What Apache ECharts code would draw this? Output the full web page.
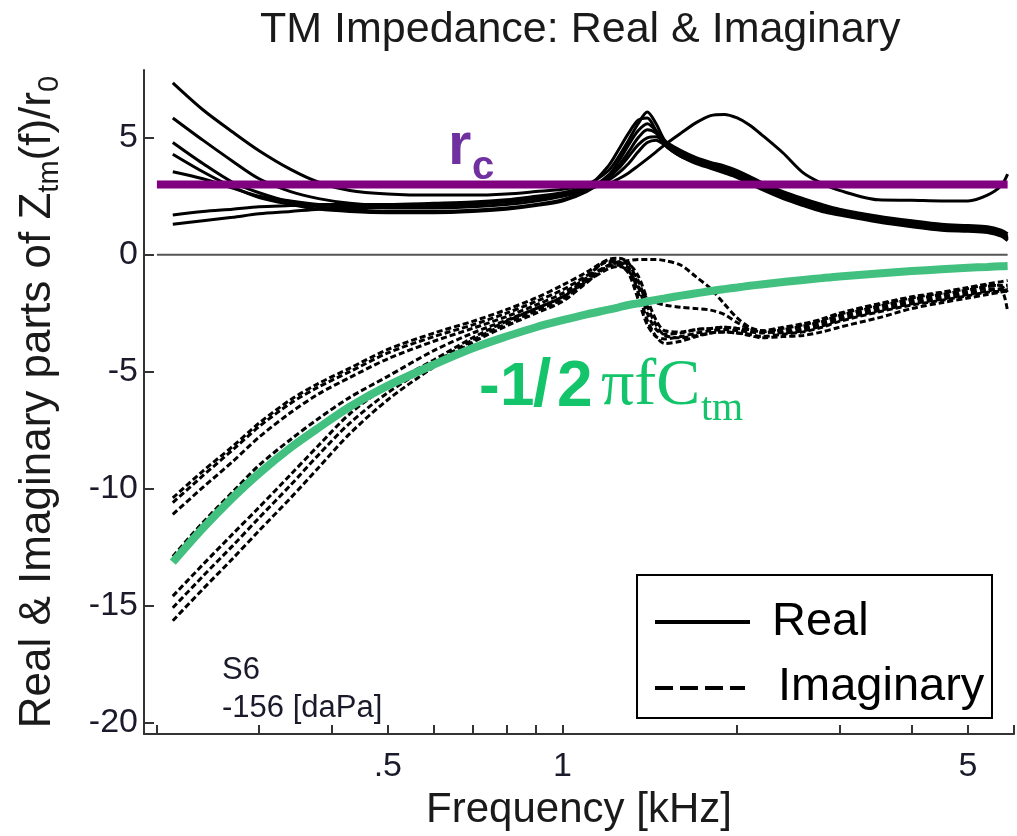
<!DOCTYPE html>
<html>
<head>
<meta charset="utf-8">
<title>TM Impedance: Real & Imaginary</title>
<script src="https://cdn.jsdelivr.net/npm/echarts@6/dist/echarts.min.js"></script>
<style>
  html, body { margin: 0; padding: 0; background: #ffffff; }
  #chart { width: 1017px; height: 836px; }
</style>
</head>
<body>
<div id="chart"></div>
<script>
// frequency samples [kHz]
const freq = [0.213, 0.24, 0.27, 0.3, 0.34, 0.38, 0.43, 0.5, 0.6, 0.7, 0.8, 0.9, 1.0,
  1.1, 1.2, 1.25, 1.3, 1.35, 1.4, 1.45, 1.5, 1.6, 1.7, 1.8, 1.9, 2.0, 2.1, 2.2,
  2.4, 2.6, 2.8, 3.0, 3.5, 4.0, 4.5, 5.0, 5.4, 5.7, 5.85];

// real parts (solid)
const real1 = [7.35, 6.2, 5.25, 4.45, 3.65, 3.1, 2.75, 2.6, 2.55, 2.55, 2.6, 2.7, 2.8,
  3.0, 3.6, 4.2, 4.9, 5.6, 6.1, 5.6, 4.9, 4.3, 4.0, 3.8, 3.65, 3.45, 3.2, 2.95,
  2.55, 2.25, 2.0, 1.85, 1.55, 1.35, 1.2, 1.15, 1.1, 0.9, 0.75];
const real2 = [5.85, 4.9, 4.0, 3.25, 2.7, 2.4, 2.2, 2.1, 2.1, 2.15, 2.25, 2.4, 2.55,
  2.85, 3.8, 4.5, 5.2, 5.75, 5.85, 5.3, 4.7, 4.2, 3.95, 3.75, 3.6, 3.4, 3.15, 2.9,
  2.5, 2.2, 1.95, 1.75, 1.45, 1.25, 1.1, 1.05, 1.0, 0.85, 0.65];
const real3 = [4.8, 3.9, 3.1, 2.65, 2.25, 2.05, 1.95, 1.85, 1.85, 1.9, 2.0, 2.15, 2.35,
  2.75, 3.4, 4.0, 4.7, 5.3, 5.6, 5.3, 4.8, 4.3, 4.05, 3.85, 3.7, 3.5, 3.25, 3.0,
  2.6, 2.3, 2.05, 1.9, 1.6, 1.4, 1.25, 1.2, 1.15, 0.95, 0.8];
const real4 = [4.3, 3.55, 2.9, 2.45, 2.15, 1.95, 1.85, 1.8, 1.8, 1.85, 1.95, 2.1, 2.3,
  2.7, 3.3, 3.8, 4.4, 5.0, 5.35, 5.2, 4.7, 4.2, 3.9, 3.7, 3.5, 3.3, 3.05, 2.8,
  2.4, 2.1, 1.85, 1.7, 1.4, 1.2, 1.05, 1.0, 0.95, 0.8, 0.6];
const real5 = [3.55, 3.25, 2.85, 2.5, 2.3, 2.15, 2.05, 2.0, 2.0, 2.05, 2.15, 2.3, 2.5,
  2.8, 3.3, 3.7, 4.2, 4.7, 5.0, 5.05, 4.85, 4.45, 4.15, 3.95, 3.8, 3.6, 3.35, 3.1,
  2.7, 2.4, 2.15, 1.95, 1.65, 1.45, 1.3, 1.25, 1.2, 1.05, 0.9];
const real6 = [1.7, 1.85, 1.95, 2.05, 2.1, 2.15, 2.15, 2.15, 2.2, 2.25, 2.35, 2.5, 2.65,
  2.9, 3.2, 3.5, 3.9, 4.4, 4.8, 4.9, 4.7, 4.35, 4.1, 3.9, 3.7, 3.5, 3.3, 3.05,
  2.65, 2.35, 2.1, 1.9, 1.55, 1.3, 1.15, 1.1, 1.05, 0.9, 0.7];
const real7 = [1.3, 1.45, 1.6, 1.75, 1.85, 1.95, 2.0, 2.05, 2.1, 2.2, 2.3, 2.45, 2.6,
  2.8, 3.05, 3.25, 3.5, 3.8, 4.1, 4.4, 4.7, 5.2, 5.65, 5.95, 6.0, 5.85, 5.55, 5.15,
  4.35, 3.5, 3.05, 2.75, 2.35, 2.33, 2.3, 2.3, 2.55, 2.95, 3.45];

// imaginary parts (dashed)
const imag1 = [-10.4, -9.25, -8.2, -7.2, -6.2, -5.5, -4.85, -4.05, -3.35, -2.85, -2.35, -1.85, -1.3,
  -0.75, -0.2, -0.15, -0.35, -1.3, -2.5, -3.2, -3.4, -3.35, -3.2, -3.15, -3.1, -3.15, -3.2, -3.25,
  -3.1, -2.95, -2.75, -2.5, -2.1, -1.8, -1.6, -1.4, -1.25, -1.15, -1.1];
const imag2 = [-10.6, -9.45, -8.35, -7.35, -6.35, -5.65, -5.0, -4.2, -3.5, -3.0, -2.5, -2.0, -1.5,
  -0.9, -0.3, -0.4, -0.8, -1.9, -3.0, -3.5, -3.6, -3.5, -3.35, -3.25, -3.2, -3.25, -3.3, -3.35,
  -3.2, -3.05, -2.85, -2.6, -2.2, -1.9, -1.7, -1.5, -1.35, -1.3, -1.3];
const imag3 = [-11.1, -9.95, -8.85, -7.8, -6.75, -5.95, -5.25, -4.45, -3.7, -3.15, -2.65, -2.15, -1.65,
  -1.0, -0.45, -0.35, -0.4, -0.9, -1.9, -2.8, -3.25, -3.3, -3.2, -3.15, -3.1, -3.15, -3.2, -3.3,
  -3.15, -3.0, -2.8, -2.55, -2.15, -1.85, -1.65, -1.45, -1.3, -1.35, -1.6];
const imag4 = [-12.9, -11.45, -10.15, -9.0, -7.9, -7.0, -6.1, -5.2, -4.1, -3.35, -2.8, -2.3, -1.8,
  -1.15, -0.6, -0.5, -0.7, -1.4, -1.85, -2.05, -2.15, -2.25, -2.3, -2.37, -2.55, -2.9, -3.15, -3.3,
  -3.3, -3.15, -2.95, -2.7, -2.3, -2.0, -1.8, -1.6, -1.45, -1.5, -2.45];
const imag5 = [-14.6, -13.25, -11.95, -10.8, -9.4, -8.15, -6.8, -5.6, -4.5, -3.55, -2.85, -2.3, -1.8,
  -1.0, -0.25, -0.3, -0.6, -1.6, -2.8, -3.5, -3.8, -3.7, -3.5, -3.35, -3.3, -3.35, -3.4, -3.5,
  -3.4, -3.3, -3.1, -2.85, -2.45, -2.15, -1.95, -1.75, -1.6, -1.55, -1.5];
const imag6 = [-15.1, -13.75, -12.45, -11.25, -9.85, -8.55, -7.2, -5.9, -4.65, -3.65, -2.95, -2.4, -1.9,
  -1.1, -0.45, -0.3, -0.25, -0.2, -0.2, -0.2, -0.25, -0.45, -0.95, -1.45, -2.1, -2.7, -3.1, -3.25,
  -3.35, -3.25, -3.05, -2.8, -2.4, -2.1, -1.9, -1.7, -1.55, -1.45, -1.4];
const imag7 = [-15.65, -14.3, -13.0, -11.8, -10.4, -9.1, -7.65, -6.2, -4.8, -3.75, -3.05, -2.5, -2.0,
  -1.2, -0.5, -0.45, -0.55, -1.1, -2.2, -3.0, -3.45, -3.55, -3.45, -3.35, -3.3, -3.35, -3.45, -3.55,
  -3.5, -3.45, -3.3, -3.1, -2.7, -2.3, -2.05, -1.85, -1.7, -1.6, -1.55];

// -1/2πfCtm (green)
const capCurve = [-13.15, -11.7, -10.4, -9.35, -8.25, -7.4, -6.5, -5.6, -4.7, -4.0, -3.5, -3.1, -2.8,
  -2.55, -2.35, -2.25, -2.15, -2.08, -2.0, -1.93, -1.87, -1.75, -1.65, -1.55, -1.47, -1.4, -1.33, -1.27,
  -1.17, -1.08, -1.0, -0.93, -0.8, -0.7, -0.62, -0.56, -0.52, -0.49, -0.48];

// rc line and zero line (ends of the drawn segment)
const rcFreq = [0.2, 5.85];
const rcValue = 3;
const zeroValue = 0;

// ticks
const xTickValues = [0.2, 0.3, 0.4, 0.5, 0.6, 0.7, 0.8, 0.9, 1, 2, 3, 4, 5, 6];
const xLabelValues = [0.5, 1, 5];
const xLabelTexts = ['.5', '1', '5'];
const yTickValues = [-20, -15, -10, -5, 0, 5];

const realSets = [real1, real2, real3, real4, real5, real6, real7];
const imagSets = [imag1, imag2, imag3, imag4, imag5, imag6, imag7];

const zip = (ys) => freq.map((f, i) => [f, ys[i]]);

const SANS = '"Liberation Sans", Arial, sans-serif';
const SERIF = '"Liberation Serif", "Times New Roman", serif';

const series = [];
realSets.forEach((ys) => {
  series.push({
    type: 'line', name: 'Real', data: zip(ys), symbol: 'none', smooth: 0.3,
    silent: true, z: 2,
    lineStyle: { color: '#000000', width: 3 }
  });
});
imagSets.forEach((ys) => {
  series.push({
    type: 'line', name: 'Imaginary', data: zip(ys), symbol: 'none', smooth: 0.3,
    silent: true, z: 2,
    lineStyle: { color: '#000000', width: 3, type: [6, 3] }
  });
});
series.push({
  type: 'line', name: 'zero', data: rcFreq.map((f) => [f, zeroValue]), symbol: 'none',
  silent: true, z: 1, lineStyle: { color: '#555555', width: 2 }
});
series.push({
  type: 'line', name: 'rc', data: rcFreq.map((f) => [f, rcValue]), symbol: 'none',
  silent: true, z: 3, lineStyle: { color: '#800080', width: 8 }
});
series.push({
  type: 'line', name: 'cap', data: zip(capCurve), symbol: 'none', smooth: 0.3,
  silent: true, z: 3, lineStyle: { color: '#42c07f', width: 8 }
});

// text placed by its top edge; top = baseline - 0.8 * size
const label = (x, baseline, size, text, font, fill) => ({
  type: 'text', z: 11,
  style: { x: x, y: baseline - Math.round(0.8 * size), text: text, font: font.replace('SIZE', size + 'px'), fill: fill }
});

const chart = echarts.init(document.getElementById('chart'));
chart.setOption({
  animation: false,
  backgroundColor: '#ffffff',
  title: {
    text: 'TM Impedance: Real & Imaginary',
    left: 255, top: 4,
    textStyle: { fontFamily: SANS, fontSize: 43, fontWeight: 'normal', color: '#1a1a1a' }
  },
  grid: { left: 144, right: 3, top: 70, bottom: 94 },
  xAxis: {
    type: 'log', logBase: 10, min: 0.19, max: 6,
    name: 'Frequency [kHz]', nameLocation: 'middle', nameGap: 52,
    nameTextStyle: { fontFamily: SANS, fontSize: 42, color: '#1a1a1a' },
    axisLine: { onZero: false, lineStyle: { color: '#333333', width: 2 } },
    axisTick: { inside: true, length: 9, customValues: xTickValues, lineStyle: { color: '#333333', width: 2 } },
    axisLabel: {
      customValues: xLabelValues, margin: 16,
      fontFamily: SANS, fontSize: 34, color: '#1a1a2a',
      formatter: (v) => xLabelTexts[xLabelValues.indexOf(v)] ?? ''
    },
    splitLine: { show: false },
    minorTick: { show: false }
  },
  yAxis: {
    type: 'value', min: -20.5, max: 7.9,
    name: 'Real & Imaginary parts of Z{sub|tm}(f)/r{sub|0}',
    nameLocation: 'middle', nameGap: 80,
    nameTextStyle: {
      fontFamily: SANS, fontSize: 44, color: '#1a1a1a', lineHeight: 52,
      rich: { sub: { fontFamily: SANS, fontSize: 29, lineHeight: 29, verticalAlign: 'bottom', color: '#1a1a1a' } }
    },
    axisLine: { onZero: false, lineStyle: { color: '#333333', width: 2 } },
    axisTick: { inside: true, length: 10, customValues: yTickValues, lineStyle: { color: '#333333', width: 2 } },
    axisLabel: { customValues: yTickValues, margin: 6, fontFamily: SANS, fontSize: 34, color: '#1a1a2a' },
    splitLine: { show: false }
  },
  graphic: [
    // rc label
    label(448, 165, 60, 'r', 'bold SIZE ' + SANS, '#7030a0'),
    label(472, 180, 40, 'c', 'bold SIZE ' + SANS, '#7030a0'),
    // -1/2πfCtm label
    label(479, 407, 62, '-', 'bold SIZE ' + SANS, '#14c46a'),
    label(500, 407, 62, '1', 'bold SIZE ' + SANS, '#14c46a'),
    label(533, 407, 66, '/', 'bold SIZE ' + SANS, '#14c46a'),
    label(557, 407, 64, '2', 'bold SIZE ' + SANS, '#14c46a'),
    label(601, 407, 66, 'πfC', 'SIZE ' + SERIF, '#14c46a'),
    label(701, 421, 40, 'tm', 'SIZE ' + SERIF, '#14c46a'),
    // condition note
    label(222, 680, 31, 'S6', 'SIZE ' + SANS, '#1a1a2a'),
    label(222, 718, 31, '-156 [daPa]', 'SIZE ' + SANS, '#1a1a2a'),
    // legend box
    { type: 'rect', z: 10, shape: { x: 637, y: 575, width: 355, height: 143 }, style: { fill: '#ffffff', stroke: '#000000', lineWidth: 2 } },
    { type: 'line', z: 11, shape: { x1: 655, y1: 622, x2: 750, y2: 622 }, style: { stroke: '#000000', lineWidth: 4 } },
    label(772, 637, 47, 'Real', 'SIZE ' + SANS, '#000000'),
    { type: 'line', z: 11, shape: { x1: 655, y1: 688, x2: 745, y2: 688 }, style: { stroke: '#000000', lineWidth: 4, lineDash: [18, 7] } },
    label(778, 702, 47, 'Imaginary', 'SIZE ' + SANS, '#000000')
  ],
  series: series
});
</script>
</body>
</html>
